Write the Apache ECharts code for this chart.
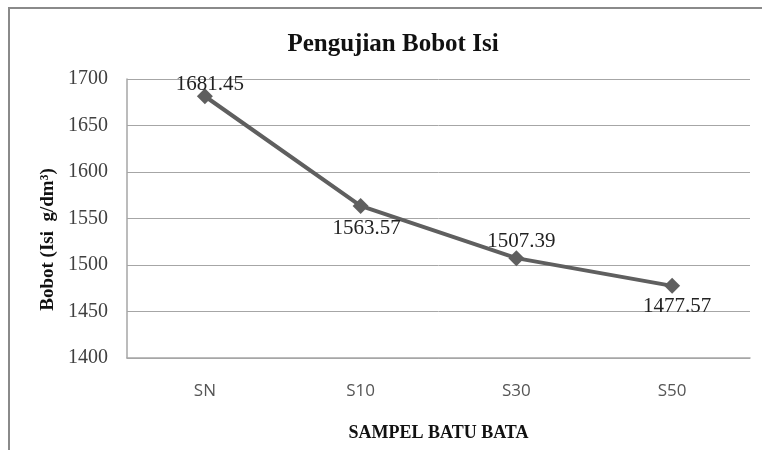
<!DOCTYPE html>
<html>
<head>
<meta charset="utf-8">
<script src="https://cdn.jsdelivr.net/npm/echarts@6/dist/echarts.min.js"></script>
<style>
  html, body { margin: 0; padding: 0; background: #fff; }
  #chart { width: 762px; height: 450px; }
</style>
</head>
<body>
<div id="chart"></div>
<script>
// Data
const categories = ['SN', 'S10', 'S30', 'S50'];
const bobotIsi = [1681.45, 1563.57, 1507.39, 1477.57];

const chart = echarts.init(document.getElementById('chart'), null, { renderer: 'canvas' });

const serif = '"Liberation Serif", "Times New Roman", serif';

// where each value label sits relative to its point (like the Excel original)
const labelPlacement = [
  { position: 'top', distance: -7, offset: [5, 0] },
  { position: 'bottom', distance: 4, offset: [6, 0] },
  { position: 'top', distance: -2, offset: [5, 0] },
  { position: 'bottom', distance: 2, offset: [5, 0] },
];

const option = {
  backgroundColor: '#fff',
  animation: false,
  title: {
    text: 'Pengujian Bobot Isi',
    left: 388,
    textAlign: 'center',
    top: 27,
    textStyle: { fontFamily: serif, fontWeight: 'bold', fontSize: 25, color: '#111' },
  },
  graphic: [
    {
      type: 'rect',
      shape: { x: 9, y: 8, width: 800, height: 500 },
      style: { fill: 'none', stroke: '#8a8a8a', lineWidth: 2 },
      silent: true,
      z: -1,
    },
  ],
  grid: { left: 127, right: 12, top: 79, bottom: 92, outerBoundsMode: 'none' },
  xAxis: {
    type: 'category',
    data: categories,
    boundaryGap: true,
    name: 'SAMPEL BATU BATA',
    nameLocation: 'middle',
    nameGap: 66,
    nameTextStyle: { fontFamily: serif, fontWeight: 'bold', fontSize: 18, color: '#111' },
    axisLine: { lineStyle: { color: '#a6a6a6', width: 1.5 } },
    axisTick: { show: false },
    axisLabel: { margin: 25, fontFamily: '"Open Sans", "Liberation Sans", sans-serif', fontSize: 17, color: '#555' },
  },
  yAxis: {
    type: 'value',
    min: 1400,
    max: 1700,
    interval: 50,
    name: 'Bobot (Isi  g/dm³)',
    nameLocation: 'middle',
    nameGap: 68,
    nameRotate: 90,
    nameTextStyle: { fontFamily: serif, fontWeight: 'bold', fontSize: 19, color: '#111', padding: [0, 42, 0, 0] },
    axisLine: { show: true, lineStyle: { color: '#a6a6a6', width: 1.5 } },
    axisTick: { show: false },
    axisLabel: { margin: 19, fontFamily: serif, fontSize: 20, color: '#404040', formatter: (v) => String(v) },
    splitLine: { lineStyle: { color: '#a6a6a6', width: 1 } },
  },
  series: [
    {
      type: 'line',
      data: bobotIsi.map((v, i) => ({ value: v, label: labelPlacement[i] })),
      symbol: 'diamond',
      symbolSize: 16,
      lineStyle: { color: '#5f5f5f', width: 4 },
      itemStyle: { color: '#5f5f5f' },
      label: {
        show: true,
        fontFamily: serif,
        fontSize: 21,
        color: '#222',
        formatter: (p) => p.value.toFixed(2),
      },
    },
  ],
};

chart.setOption(option);
</script>
</body>
</html>
